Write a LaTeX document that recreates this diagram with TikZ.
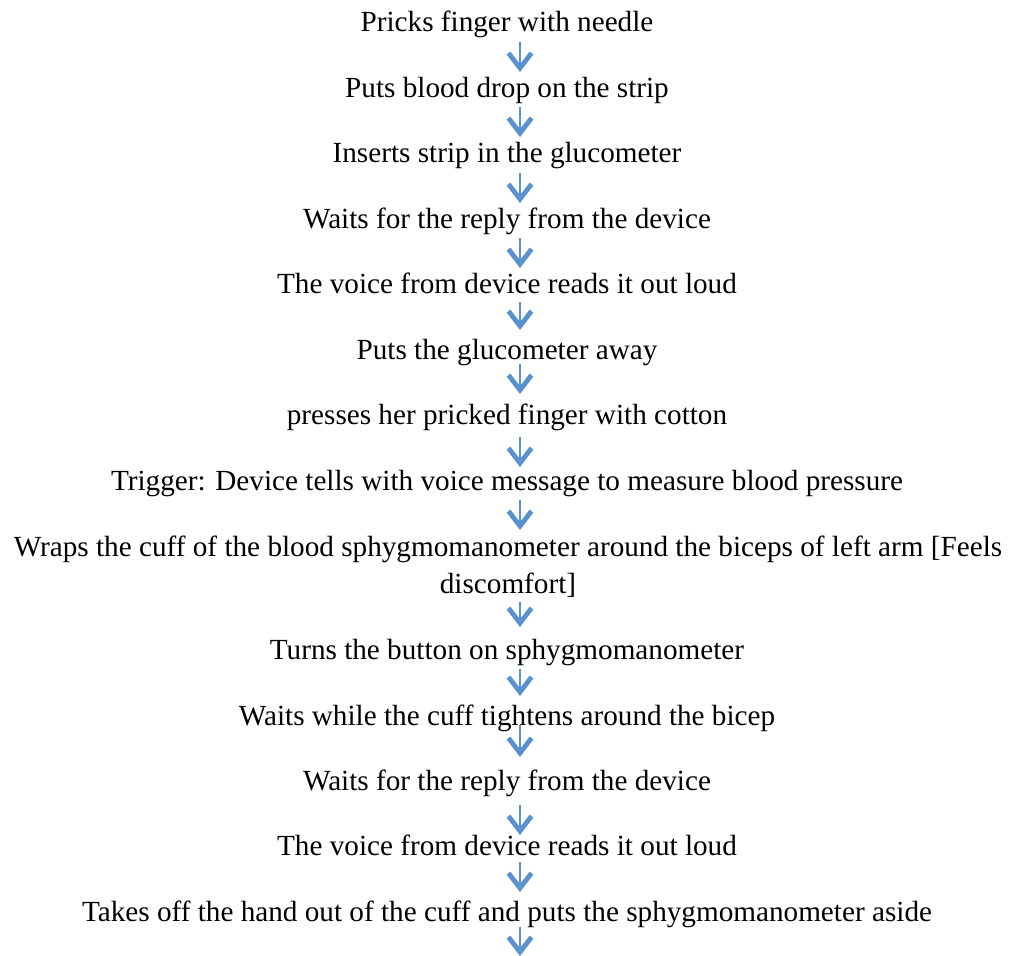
\documentclass[tikz,border=0pt]{standalone}
\usepackage{fontspec}
\setmainfont{Liberation Serif}
\usetikzlibrary{arrows.meta,calc}
\definecolor{flowblue}{RGB}{88,145,205}
\begin{document}
\begin{tikzpicture}[x=1bp,y=-1bp,
  stepnode/.style={anchor=base,inner sep=0pt,font=\fontsize{29.2bp}{37bp}\selectfont,align=center},
  flow/.style={draw=flowblue,line width=2.4bp,
    -{Straight Barb[sharp,length=15bp,width=23bp,line width=4.8bp]}}]
\useasboundingbox (0,0) rectangle (1010,956);
% process steps, placed by their baselines
\node[stepnode] (s1)  at (507,31)  {Pricks finger with needle};
\node[stepnode] (s2)  at (507,97)  {Puts blood drop on the strip};
\node[stepnode] (s3)  at (507,162) {Inserts strip in the glucometer};
\node[stepnode] (s4)  at (507,228) {Waits for the reply from the device};
\node[stepnode] (s5)  at (507,293) {The voice from device reads it out loud};
\node[stepnode] (s6)  at (507,359) {Puts the glucometer away};
\node[stepnode] (s7)  at (507,424) {presses her pricked finger with cotton};
\node[stepnode] (s8)  at (507,490) {Trigger: Device tells with voice message to measure blood pressure};
\node[stepnode,anchor=north] (s9) at (508,536) {Wraps the cuff of the blood sphygmomanometer around the biceps of left arm [Feels\\discomfort]};
\node[stepnode] (s10) at (507,659) {Turns the button on sphygmomanometer};
\node[stepnode] (s11) at (507,725) {Waits while the cuff tightens around the bicep};
\node[stepnode] (s12) at (507,790) {Waits for the reply from the device};
\node[stepnode] (s13) at (507,855) {The voice from device reads it out loud};
\node[stepnode] (s14) at (507,921) {Takes off the hand out of the cuff and puts the sphygmomanometer aside};
% column of the connectors and the free end of the last one
\coordinate (ax) at (520,0);
\coordinate (end) at (520,956);
% connectors between consecutive steps
\draw[flow] ($(s1.base -| ax)+(0,11)$)  -- ($(s2.base -| ax)+(0,-25)$);
\draw[flow] ($(s2.base -| ax)+(0,10)$)  -- ($(s3.base -| ax)+(0,-25)$);
\draw[flow] ($(s3.base -| ax)+(0,11)$)  -- ($(s4.base -| ax)+(0,-25)$);
\draw[flow] ($(s4.base -| ax)+(0,10)$)  -- ($(s5.base -| ax)+(0,-25)$);
\draw[flow] ($(s5.base -| ax)+(0,9)$)   -- ($(s6.base -| ax)+(0,-29)$);
\draw[flow] ($(s6.base -| ax)+(0,5)$)   -- ($(s7.base -| ax)+(0,-30)$);
\draw[flow] ($(s7.base -| ax)+(0,13)$)  -- ($(s8.base -| ax)+(0,-23)$);
\draw[flow] ($(s8.base -| ax)+(0,10)$)  -- ($(s9.north -| ax)+(0,-6)$);
\draw[flow] ($(s9.south -| ax)+(0,4)$)  -- ($(s10.base -| ax)+(0,-32)$);
\draw[flow] ($(s10.base -| ax)+(0,10)$) -- ($(s11.base -| ax)+(0,-29)$);
\draw[flow] ($(s11.base -| ax)+(0,0)$)  -- ($(s12.base -| ax)+(0,-33)$);
\draw[flow] ($(s12.base -| ax)+(0,15)$) -- ($(s13.base -| ax)+(0,-20)$);
\draw[flow] ($(s13.base -| ax)+(0,7)$)  -- ($(s14.base -| ax)+(0,-29)$);
\draw[flow] ($(s14.base -| ax)+(0,6)$)  -- (end);
\end{tikzpicture}
\end{document}
